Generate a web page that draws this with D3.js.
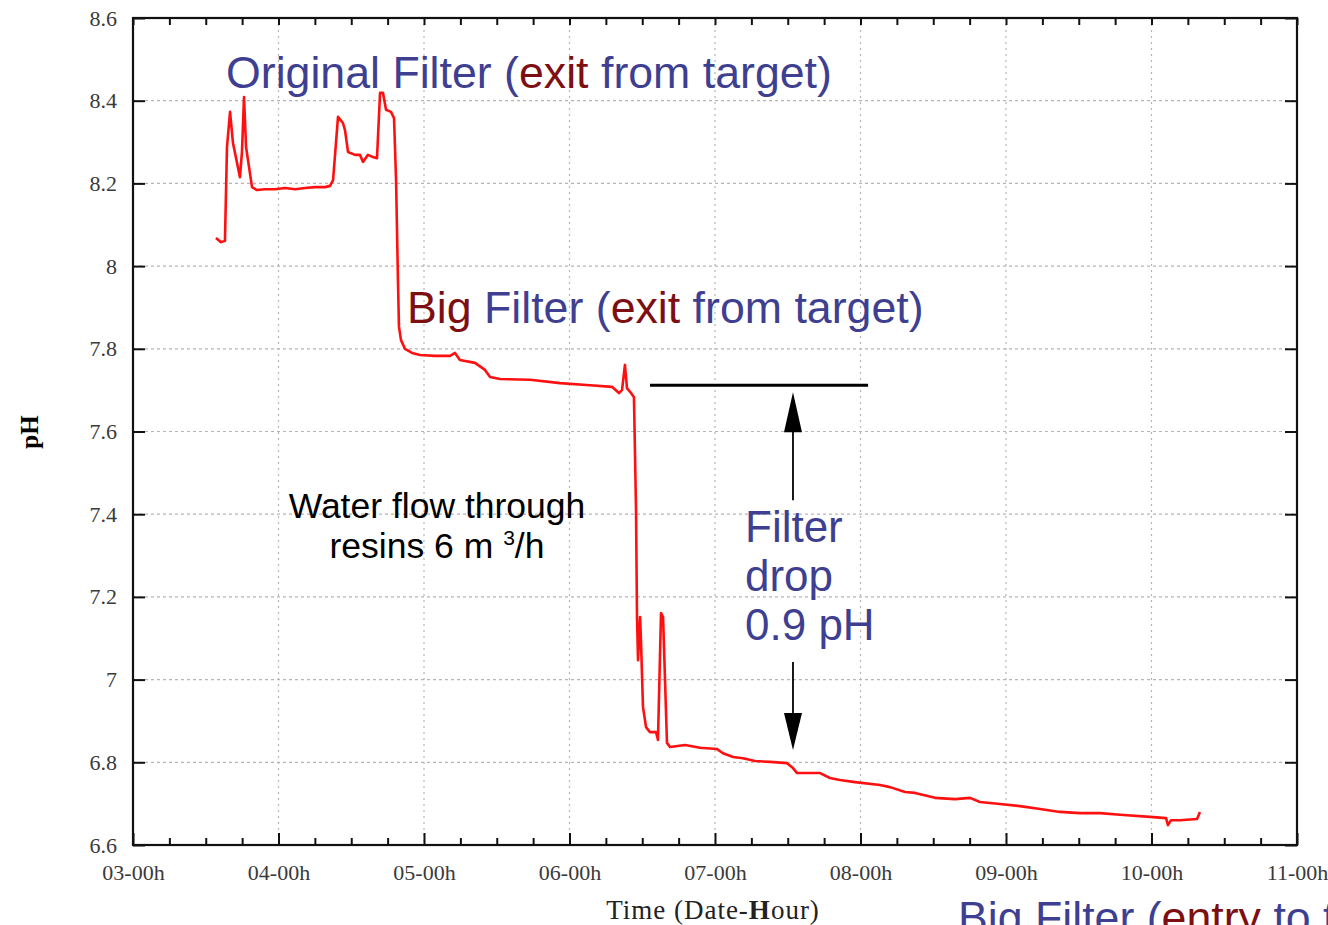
<!DOCTYPE html>
<html>
<head>
<meta charset="utf-8">
<script src="https://cdn.jsdelivr.net/npm/d3@7"></script>
<style>
  body { margin: 0; background: #fff; }
  svg { display: block; }
  .tick text { font-family: "Liberation Serif", serif; font-size: 22px; fill: #3a3a3a; }
  .ann { font-family: "Liberation Sans", Arial, sans-serif; }
</style>
</head>
<body>
<div class="chartDiv"></div>
<script>
// pH vs time (hours as decimal)
const hours = [3.570, 3.605, 3.632, 3.646, 3.667, 3.687, 3.735, 3.749, 3.763, 3.777,
  3.818, 3.852, 3.907, 3.976, 4.045, 4.113, 4.182, 4.251, 4.320, 4.354,
  4.375, 4.409, 4.443, 4.457, 4.478, 4.526, 4.560, 4.581, 4.615, 4.649,
  4.677, 4.698, 4.718, 4.739, 4.773, 4.794, 4.808, 4.821, 4.828, 4.842,
  4.869, 4.918, 4.973, 5.076, 5.179, 5.213, 5.247, 5.351, 5.419, 5.454,
  5.522, 5.729, 5.935, 6.141, 6.292, 6.340, 6.361, 6.381, 6.395, 6.423,
  6.443, 6.457, 6.464, 6.471, 6.485, 6.491, 6.505, 6.526, 6.553, 6.595,
  6.608, 6.629, 6.643, 6.670, 6.691, 6.794, 6.897, 7.014, 7.055, 7.124,
  7.192, 7.275, 7.378, 7.495, 7.536, 7.564, 7.722, 7.790, 7.859, 7.962,
  8.134, 8.203, 8.306, 8.375, 8.512, 8.649, 8.753, 8.821, 8.959, 9.096,
  9.234, 9.371, 9.509, 9.646, 9.784, 9.990, 10.100, 10.113, 10.134, 10.196,
  10.313, 10.333];
const ph = [8.068, 8.058, 8.061, 8.288, 8.373, 8.298, 8.215, 8.276, 8.409, 8.288,
  8.191, 8.184, 8.186, 8.186, 8.189, 8.186, 8.189, 8.191, 8.191, 8.194,
  8.208, 8.361, 8.346, 8.329, 8.276, 8.269, 8.269, 8.252, 8.269, 8.264,
  8.261, 8.419, 8.419, 8.378, 8.373, 8.358, 8.208, 7.966, 7.853, 7.821,
  7.800, 7.790, 7.785, 7.783, 7.783, 7.790, 7.773, 7.766, 7.749, 7.732,
  7.727, 7.725, 7.717, 7.712, 7.708, 7.693, 7.700, 7.761, 7.705, 7.693,
  7.683, 7.417, 7.151, 7.047, 7.151, 7.096, 6.934, 6.885, 6.873, 6.873,
  6.854, 7.161, 7.151, 6.847, 6.837, 6.842, 6.835, 6.832, 6.822, 6.813,
  6.810, 6.803, 6.801, 6.798, 6.786, 6.774, 6.774, 6.762, 6.757, 6.752,
  6.745, 6.740, 6.728, 6.726, 6.714, 6.711, 6.714, 6.704, 6.699, 6.694,
  6.687, 6.680, 6.677, 6.677, 6.673, 6.668, 6.665, 6.648, 6.660, 6.660,
  6.663, 6.680];

const hourTicks = [3, 4, 5, 6, 7, 8, 9, 10, 11];
const hourLabels = ["03-00h", "04-00h", "05-00h", "06-00h", "07-00h", "08-00h", "09-00h", "10-00h", "11-00h"];
const phTicks = [6.6, 6.8, 7, 7.2, 7.4, 7.6, 7.8, 8, 8.2, 8.4, 8.6];

// the filter drop marker (level before, level after, where the arrow sits)
const dropLevel = 7.712;
const dropStart = 6.553, dropEnd = 8.052, arrowAt = 7.536;

const blue = "#3f3f91";
const darkRed = "#7d0f12";

let svgWidth = 1328, svgHeight = 925;
let margin = { top: 18, right: 31, bottom: 80, left: 133 };
let graphWidth = svgWidth - margin.left - margin.right;
let graphHeight = svgHeight - margin.top - margin.bottom;

let svg = d3.select('.chartDiv').append('svg')
  .attr('width', svgWidth)
  .attr('height', svgHeight);

let chartGroup = svg.append('g')
  .attr('transform', `translate(${margin.left}, ${margin.top})`);

let xScale = d3.scaleLinear().domain([3, 11]).range([0, graphWidth]);
let yScale = d3.scaleLinear().domain([6.6, 8.6]).range([graphHeight, 0]);

// dotted grid
chartGroup.append('g').selectAll('line')
  .data(phTicks.slice(1, -1)).join('line')
  .attr('x1', 0).attr('x2', graphWidth)
  .attr('y1', d => yScale(d)).attr('y2', d => yScale(d))
  .attr('stroke', '#b5b5b5').attr('stroke-width', 1.2).attr('stroke-dasharray', '3,3');
chartGroup.append('g').selectAll('line')
  .data(hourTicks.slice(1, -1)).join('line')
  .attr('x1', d => xScale(d)).attr('x2', d => xScale(d))
  .attr('y1', 0).attr('y2', graphHeight)
  .attr('stroke', '#b5b5b5').attr('stroke-width', 1.2).attr('stroke-dasharray', '2,4');

// axes with inward ticks
let quarters = d3.range(3, 11.001, 0.25).filter(d => Math.abs(d - Math.round(d)) > 0.01);

let bottomAxis = d3.axisBottom(xScale).tickValues(hourTicks)
  .tickFormat((d, i) => hourLabels[i]).tickSizeInner(-12).tickSizeOuter(0).tickPadding(19);
let leftAxis = d3.axisLeft(yScale).tickValues(phTicks)
  .tickFormat(d3.format('')).tickSizeInner(-12).tickSizeOuter(0).tickPadding(16);

let gx = chartGroup.append('g').attr('transform', `translate(0, ${graphHeight})`).call(bottomAxis);
let gy = chartGroup.append('g').call(leftAxis);

chartGroup.append('g').attr('transform', `translate(0, ${graphHeight})`)
  .call(d3.axisBottom(xScale).tickValues(quarters).tickFormat('').tickSizeInner(-7).tickSizeOuter(0));
chartGroup.append('g')
  .call(d3.axisTop(xScale).tickValues(quarters.concat(hourTicks)).tickFormat('').tickSizeInner(-7).tickSizeOuter(0));
chartGroup.append('g').attr('transform', `translate(${graphWidth}, 0)`)
  .call(d3.axisRight(yScale).tickValues(phTicks).tickFormat('').tickSizeInner(-12).tickSizeOuter(0));

chartGroup.selectAll('.domain').remove();
chartGroup.selectAll('.tick line').attr('stroke', '#111').attr('stroke-width', 2);
chartGroup.selectAll('.tick text').attr('fill', '#3a3a3a');

// frame
chartGroup.append('rect')
  .attr('width', graphWidth).attr('height', graphHeight)
  .attr('fill', 'none').attr('stroke', '#111').attr('stroke-width', 2.2);

// data line
let pts = hours.map((h, i) => [h, ph[i]]);
let line = d3.line().x(d => xScale(d[0])).y(d => yScale(d[1]));
chartGroup.append('path')
  .datum(pts)
  .attr('d', line)
  .attr('fill', 'none')
  .attr('stroke', '#ff1010')
  .attr('stroke-width', 2.6)
  .attr('stroke-linejoin', 'round');

// filter drop marker
chartGroup.append('line')
  .attr('x1', xScale(dropStart)).attr('x2', xScale(dropEnd))
  .attr('y1', yScale(dropLevel)).attr('y2', yScale(dropLevel))
  .attr('stroke', '#000').attr('stroke-width', 3);

let ax = xScale(arrowAt);
let upTip = yScale(dropLevel) + 7;
chartGroup.append('line').attr('x1', ax).attr('x2', ax)
  .attr('y1', upTip + 30).attr('y2', upTip + 108)
  .attr('stroke', '#000').attr('stroke-width', 1.8);
chartGroup.append('path')
  .attr('d', `M${ax},${upTip} L${ax - 9},${upTip + 40} L${ax + 9},${upTip + 40} Z`)
  .attr('fill', '#000');

let downTip = yScale(6.83);
chartGroup.append('line').attr('x1', ax).attr('x2', ax)
  .attr('y1', downTip - 88).attr('y2', downTip - 30)
  .attr('stroke', '#000').attr('stroke-width', 1.8);
chartGroup.append('path')
  .attr('d', `M${ax},${downTip} L${ax - 9},${downTip - 37} L${ax + 9},${downTip - 37} Z`)
  .attr('fill', '#000');

// axis titles
svg.append('text')
  .attr('transform', 'translate(38, 432) rotate(-90)')
  .attr('text-anchor', 'middle')
  .style('font-family', '"Liberation Serif", serif')
  .style('font-size', '25px').style('font-weight', 'bold')
  .text('pH');

let xt = svg.append('text')
  .attr('x', 713).attr('y', 919)
  .attr('text-anchor', 'middle')
  .style('font-family', '"Liberation Serif", serif')
  .style('font-size', '27px').style('letter-spacing', '1px').attr('fill', '#222');
xt.append('tspan').text('Time (Date-');
xt.append('tspan').style('font-weight', 'bold').text('H');
xt.append('tspan').text('our)');

// annotations
let colored = (x, y, parts, size) => {
  let t = svg.append('text').attr('class', 'ann')
    .attr('x', x).attr('y', y).style('font-size', size + 'px');
  parts.forEach(p => t.append('tspan').attr('fill', p[1]).text(p[0]));
  return t;
};

colored(226, 88, [['Original Filter (', blue], ['exit', darkRed], [' from target)', blue]], 44.7);
colored(407, 323, [['Big', darkRed], [' Filter (', blue], ['exit', darkRed], [' from target)', blue]], 44.7);
// this one runs off the bottom edge in the original as well
colored(958, 933, [['Big Filter (', blue], ['entry', darkRed], [' to target)', blue]], 44.7);

svg.append('text').attr('class', 'ann')
  .attr('x', 437).attr('y', 518).attr('text-anchor', 'middle')
  .style('font-size', '35.5px').attr('fill', '#000')
  .text('Water flow through');
let r = svg.append('text').attr('class', 'ann')
  .attr('x', 437).attr('y', 558).attr('text-anchor', 'middle')
  .style('font-size', '35.5px').attr('fill', '#000');
r.append('tspan').text('resins 6 m ');
r.append('tspan').attr('dy', -13).style('font-size', '21px').text('3');
r.append('tspan').attr('dy', 13).text('/h');

['Filter', 'drop', '0.9 pH'].forEach((s, i) => {
  svg.append('text').attr('class', 'ann')
    .attr('x', 745).attr('y', 542 + i * 49)
    .style('font-size', '44px').attr('fill', blue)
    .text(s);
});
</script>
</body>
</html>
